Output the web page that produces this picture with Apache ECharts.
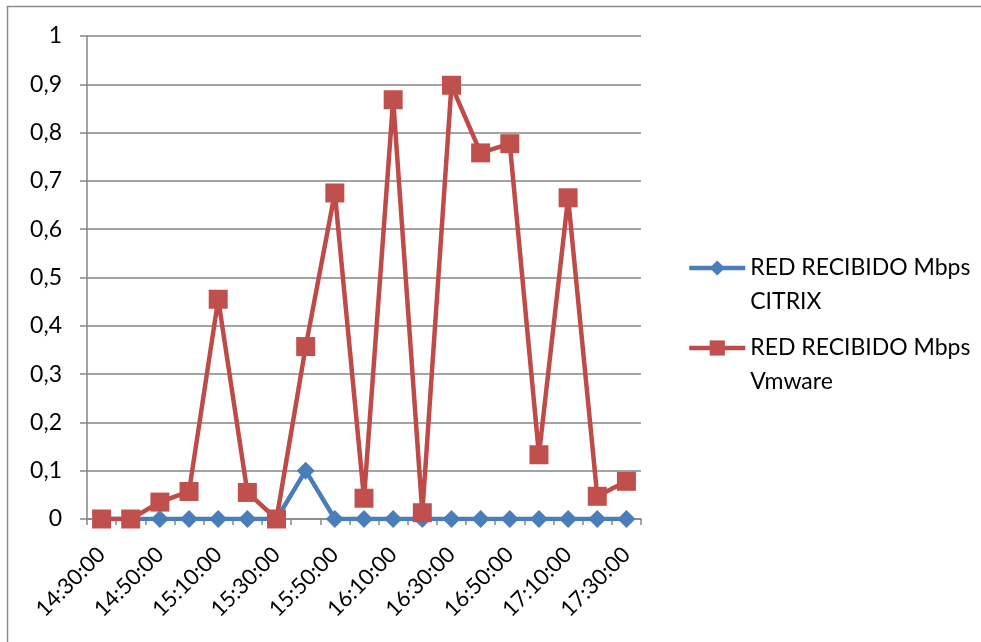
<!DOCTYPE html>
<html>
<head>
<meta charset="utf-8">
<script src="https://cdn.jsdelivr.net/npm/echarts@6/dist/echarts.min.js"></script>
<style>
  html, body { margin: 0; padding: 0; background: #fff; }
  #chart { width: 981px; height: 642px; }
</style>
</head>
<body>
<div id="chart"></div>
<script>
// horas de muestreo (cada 10 min)
var categories = ['14:30:00', '14:40:00', '14:50:00', '15:00:00', '15:10:00', '15:20:00', '15:30:00',
  '15:40:00', '15:50:00', '16:00:00', '16:10:00', '16:20:00', '16:30:00', '16:40:00',
  '16:50:00', '17:00:00', '17:10:00', '17:20:00', '17:30:00'];
var citrix = [0, 0, 0, 0, 0, 0, 0, 0.1, 0, 0, 0, 0, 0, 0, 0, 0, 0, 0, 0];
var vmware = [0, 0, 0.035, 0.057, 0.455, 0.055, 0, 0.357, 0.675, 0.043, 0.868, 0.013,
  0.898, 0.758, 0.777, 0.133, 0.665, 0.047, 0.078];
var seriesNames = ['RED RECIBIDO Mbps\nCITRIX', 'RED RECIBIDO Mbps\nVmware'];

var font = 'Lato, sans-serif';
var gray = '#868686';

// leyenda: el icono queda alineado con la primera línea del texto
function legendFor(name, top) {
  return {
    orient: 'vertical',
    left: 682,
    top: top,
    itemWidth: 56,
    itemHeight: 19,
    data: [name],
    lineStyle: { width: 4.5 },
    formatter: function (n) { return '\n' + n; },
    textStyle: { fontFamily: font, fontSize: 23, color: '#000', lineHeight: 34 }
  };
}

var chart = echarts.init(document.getElementById('chart'), null, { renderer: 'canvas' });
chart.setOption({
  animation: false,
  backgroundColor: '#fff',
  graphic: [{
    // marco exterior del gráfico
    type: 'rect',
    shape: { x: 7.5, y: 6.5, width: 1100, height: 800 },
    style: { fill: 'none', stroke: '#8c8c8c', lineWidth: 1.5 },
    silent: true
  }],
  grid: { left: 87, right: 340, top: 36, bottom: 123 },
  legend: [legendFor(seriesNames[0], 212), legendFor(seriesNames[1], 292)],
  xAxis: {
    type: 'category',
    data: categories,
    boundaryGap: true,
    axisLine: { lineStyle: { color: gray, width: 1.5 } },
    axisTick: { show: true, interval: 0, length: 6, lineStyle: { color: gray, width: 1.5 } },
    axisLabel: {
      interval: 1,
      rotate: 45,
      margin: 32,
      fontFamily: font,
      fontSize: 22,
      color: '#000'
    }
  },
  yAxis: {
    type: 'value',
    min: 0,
    max: 1,
    interval: 0.1,
    axisLine: { show: true, lineStyle: { color: gray, width: 1.5 } },
    axisTick: { show: true, length: 7, lineStyle: { color: gray, width: 1.5 } },
    splitLine: { lineStyle: { color: gray, width: 1.5 } },
    axisLabel: {
      margin: 25,
      fontFamily: font,
      fontSize: 23,
      color: '#000',
      formatter: function (v) { return String(+v.toFixed(1)).replace('.', ','); }
    }
  },
  series: [
    {
      name: seriesNames[0],
      type: 'line',
      data: citrix,
      symbol: 'diamond',
      symbolSize: 18,
      z: 2,
      itemStyle: { color: '#4A7EBB' },
      lineStyle: { color: '#4A7EBB', width: 4.5 }
    },
    {
      name: seriesNames[1],
      type: 'line',
      data: vmware,
      symbol: 'rect',
      symbolSize: 19,
      z: 3,
      itemStyle: { color: '#C0504D' },
      lineStyle: { color: '#BE4B48', width: 4.5 }
    }
  ]
});
</script>
</body>
</html>
